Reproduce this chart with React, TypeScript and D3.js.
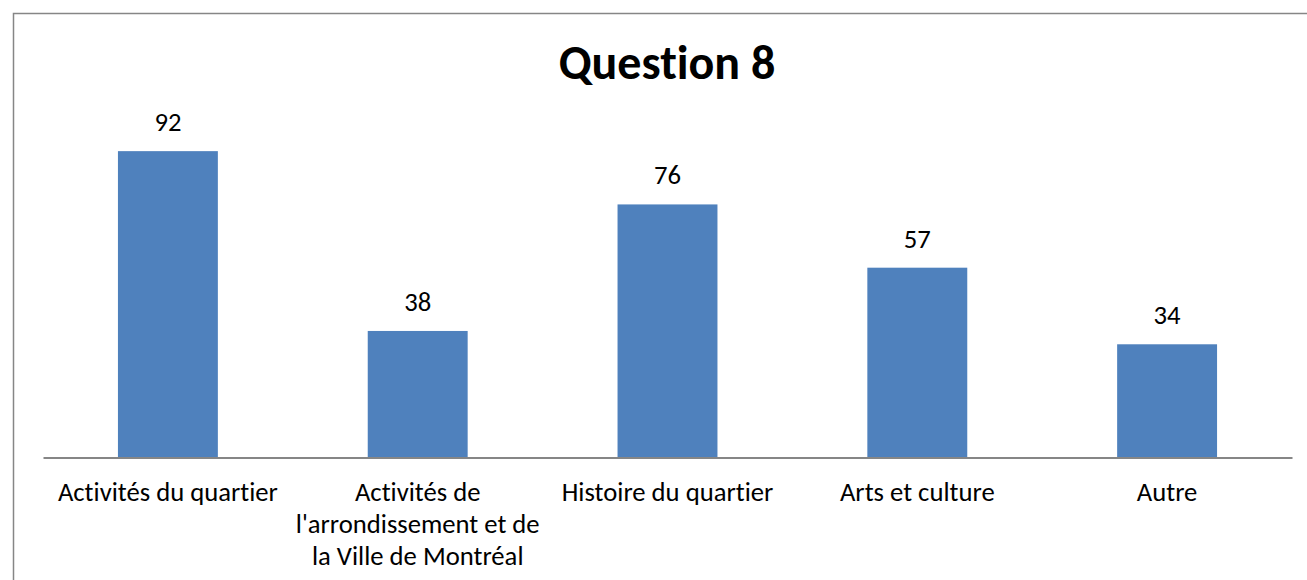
import React, { useEffect, useRef } from 'react';
import * as d3 from 'd3';

const title = 'Question 8';
const categories = [
  'Activités du quartier',
  "Activités de\nl'arrondissement et de\nla Ville de Montréal",
  'Histoire du quartier',
  'Arts et culture',
  'Autre',
];
const values = [92, 38, 76, 57, 34];

const FONT = "Calibri, Carlito, 'Open Sans', sans-serif";

const App = () => {
  const svgRef = useRef<SVGSVGElement>(null);

  useEffect(() => {
    const W = 1307;
    const H = 580;
    const left = 43;
    const right = 1292;
    const base = 457.5;

    const x = d3.scaleBand().domain(categories).range([left, right]).paddingInner(0.6).paddingOuter(0.3);
    const y = d3.scaleLinear().domain([0, 100]).range([base, base - 333]);

    const svg = d3.select(svgRef.current).attr('width', W).attr('height', H)
      .style('font-variant-ligatures', 'none');
    svg.selectAll('*').remove();

    svg.append('rect')
      .attr('x', 0).attr('y', 0).attr('width', W).attr('height', H)
      .attr('fill', '#ffffff');

    // chart area border (runs off the right and bottom edges)
    svg.append('rect')
      .attr('x', 13.5).attr('y', 13.5).attr('width', W + 20).attr('height', H + 20)
      .attr('fill', 'none').attr('stroke', '#868686').attr('stroke-width', 1.5);

    svg.append('text')
      .attr('x', 667).attr('y', 79)
      .attr('text-anchor', 'middle')
      .attr('font-family', FONT).attr('font-weight', 'bold').attr('font-size', 48)
      .attr('fill', '#000')
      .text(title);

    const data = categories.map((c, i) => ({ c, v: values[i] }));

    svg.append('g').selectAll('rect')
      .data(data)
      .join('rect')
      .attr('x', d => x(d.c)!)
      .attr('y', d => y(d.v))
      .attr('width', x.bandwidth())
      .attr('height', d => base - y(d.v))
      .attr('fill', '#4f81bd');

    svg.append('g').selectAll('text')
      .data(data)
      .join('text')
      .attr('x', d => x(d.c)! + x.bandwidth() / 2)
      .attr('y', d => y(d.v) - 20)
      .attr('text-anchor', 'middle')
      .attr('font-family', FONT).attr('font-size', 26.67)
      .attr('fill', '#000')
      .text(d => d.v);

    const axis = svg.append('g')
      .attr('transform', 'translate(0,' + base + ')')
      .call(d3.axisBottom(x).tickSize(0).tickSizeOuter(0).tickFormat(() => ''));
    axis.select('.domain').attr('stroke', '#868686').attr('stroke-width', 2);

    axis.selectAll('.tick').each(function (d) {
      const t = d3.select(this);
      t.select('text').remove();
      const lines = String(d).split('\n');
      const txt = t.append('text')
        .attr('text-anchor', 'middle')
        .attr('font-family', FONT).attr('font-size', 26.67)
        .attr('fill', '#000');
      lines.forEach((l, i) => {
        txt.append('tspan').attr('x', 0).attr('y', 43 + i * 32).text(l);
      });
    });
  }, []);

  return (
    <svg ref={svgRef} style={{ position: 'absolute', left: 0, top: 0 }}></svg>
  );
};

export default App;
